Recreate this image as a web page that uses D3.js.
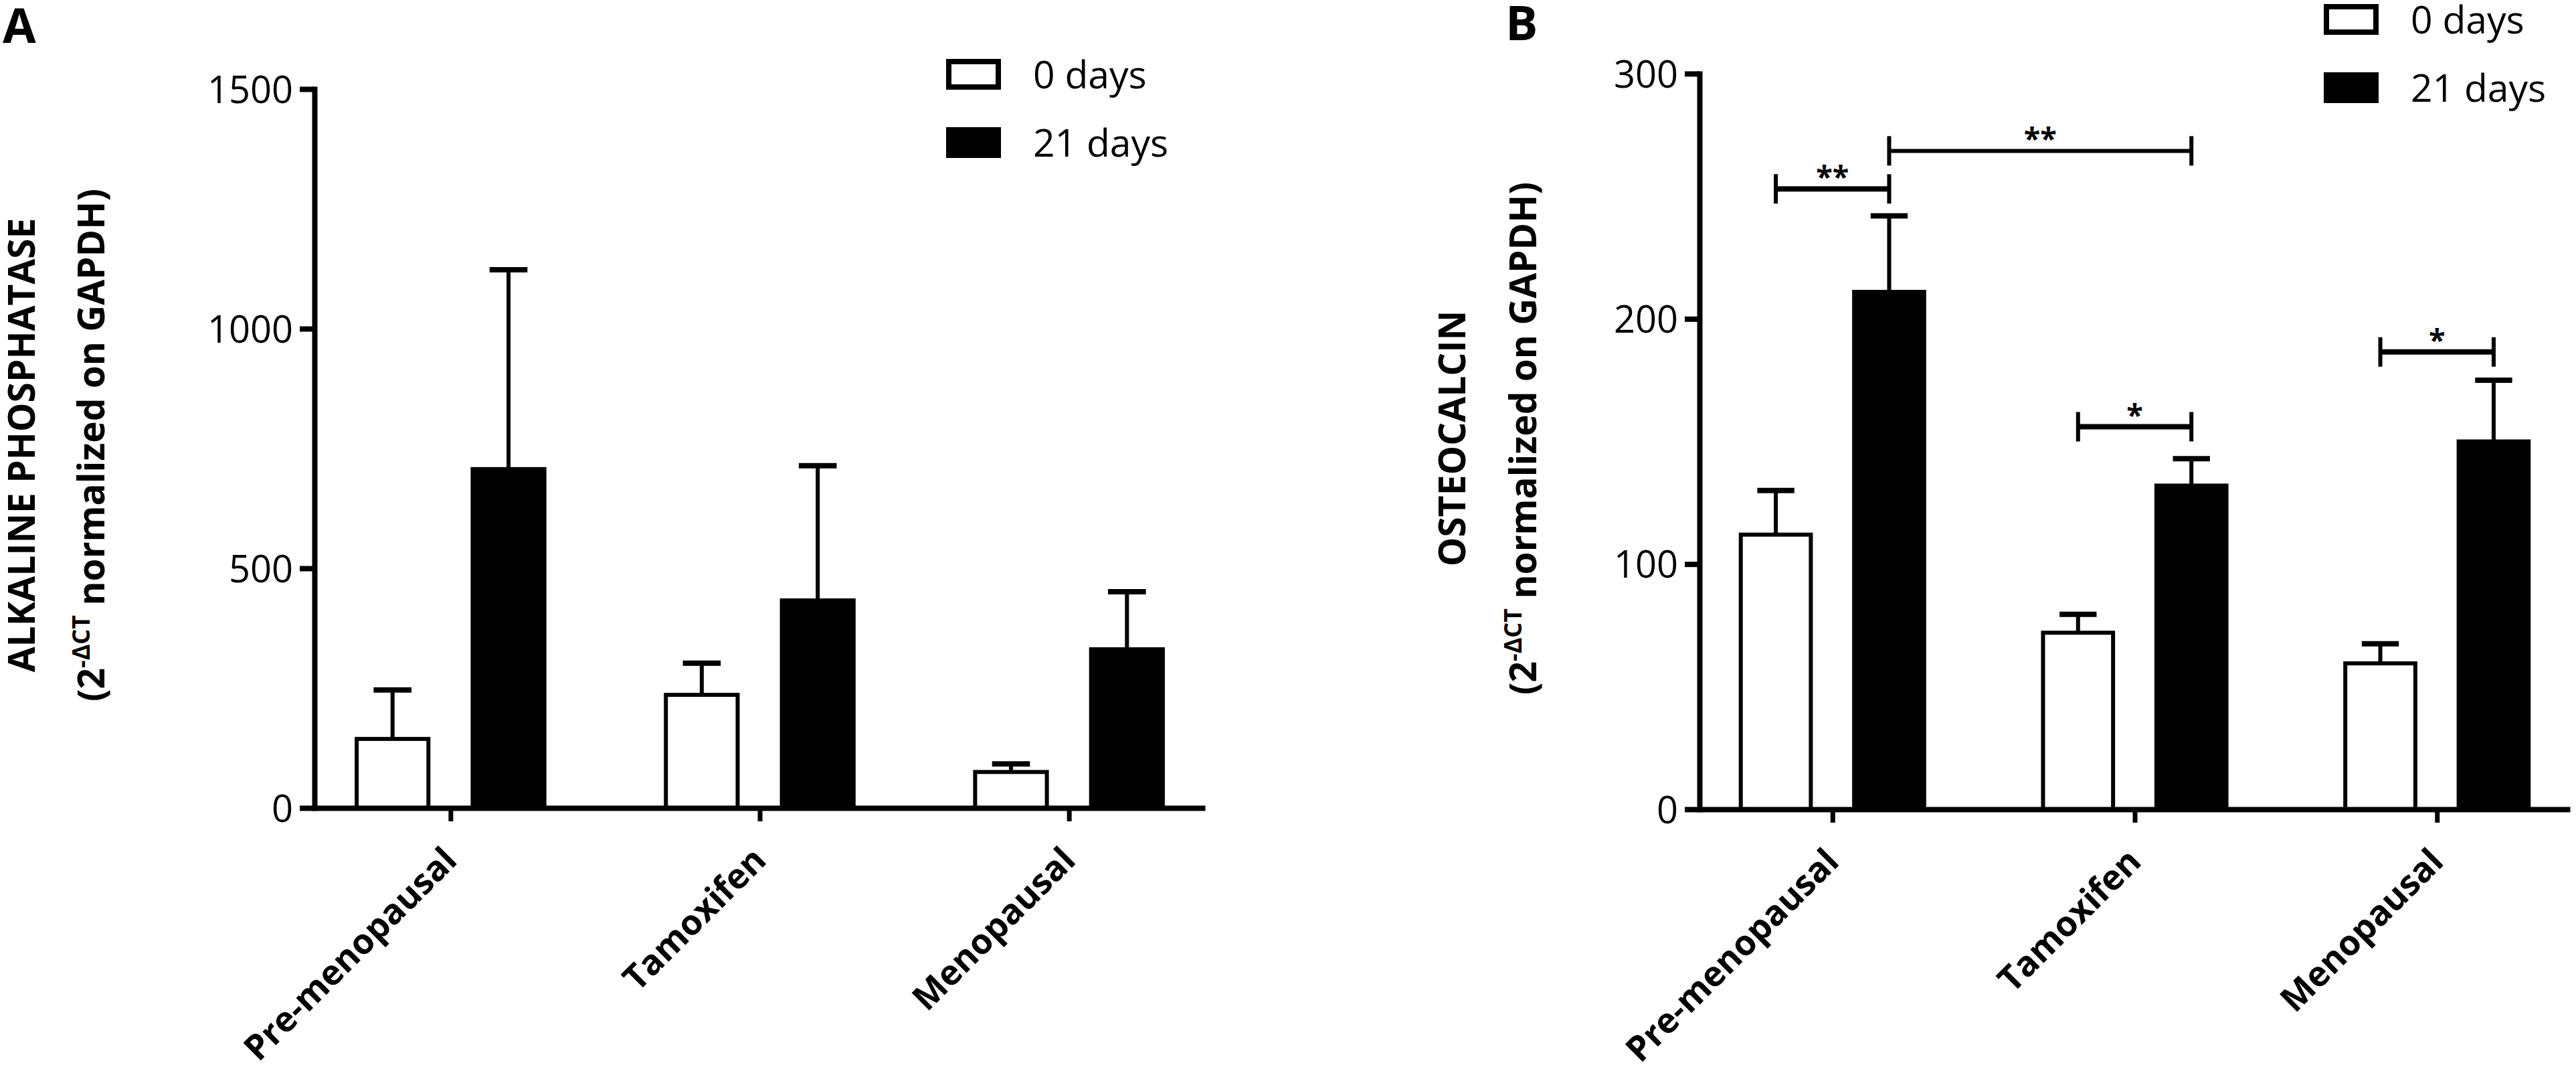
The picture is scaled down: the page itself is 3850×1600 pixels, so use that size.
<!DOCTYPE html>
<html>
<head>
<meta charset="utf-8">
<script src="https://cdn.jsdelivr.net/npm/d3@7"></script>
<style>
  body { margin: 0; background: #fff; }
  text { font-family: "Open Sans", sans-serif; fill: #000; }
</style>
</head>
<body>
<div id="chart"></div>
<script>
// data
const groups = ["Pre-menopausal", "Tamoxifen", "Menopausal"];
const seriesNames = ["0 days", "21 days"];

const alpMean0 = [144, 236, 75];
const alpSem0 = [102, 66, 17];
const alpMean21 = [707, 433, 331];
const alpSem21 = [416, 281, 120];
const alpTicks = [0, 500, 1000, 1500];

const ocnMean0 = [112, 72, 59.5];
const ocnSem0 = [18, 7.5, 8];
const ocnMean21 = [211, 132, 150];
const ocnSem21 = [31, 11, 25];
const ocnTicks = [0, 100, 200, 300];

// significance brackets on panel B: [group, series] -> [group, series]
const ocnBrackets = [
    { from: ["Pre-menopausal", "0 days"], to: ["Pre-menopausal", "21 days"], level: 253, label: "**", w: 8 },
    { from: ["Pre-menopausal", "21 days"], to: ["Tamoxifen", "21 days"], level: 268.5, label: "**", w: 6 },
    { from: ["Tamoxifen", "0 days"], to: ["Tamoxifen", "21 days"], level: 156, label: "*", w: 8 },
    { from: ["Menopausal", "0 days"], to: ["Menopausal", "21 days"], level: 186.5, label: "*", w: 8 }
];

const W = 3850, H = 1600;

const svg = d3.select("#chart")
    .append("svg")
    .attr("width", W)
    .attr("height", H);

svg.append("rect").attr("width", W).attr("height", H).attr("fill", "#fff");

function drawPanel(p) {
    const g = svg.append("g");

    const y = d3.scaleLinear().domain([0, p.max]).range([p.bottom, p.top]);
    const x0 = d3.scalePoint().domain(groups).range([p.left, p.right]).padding(0.44);
    const step = x0.step();
    const x1 = d3.scaleBand().domain(seriesNames)
        .range([-0.31 * step, 0.31 * step])
        .paddingInner(0.3467);
    const bw = x1.bandwidth();

    // rows
    const rows = [];
    groups.forEach((grp, i) => {
        rows.push({ grp, s: "0 days", mean: p.mean0[i], sem: p.sem0[i] });
        rows.push({ grp, s: "21 days", mean: p.mean21[i], sem: p.sem21[i] });
    });

    // error bars (upper only)
    const eb = g.append("g");
    rows.forEach(d => {
        const cx = x0(d.grp) + x1(d.s) + bw / 2;
        eb.append("line")
            .attr("x1", cx).attr("x2", cx)
            .attr("y1", y(d.mean)).attr("y2", y(d.mean + d.sem))
            .attr("stroke", "#000").attr("stroke-width", 6);
        eb.append("line")
            .attr("x1", cx - bw / 4).attr("x2", cx + bw / 4)
            .attr("y1", y(d.mean + d.sem)).attr("y2", y(d.mean + d.sem))
            .attr("stroke", "#000").attr("stroke-width", 8);
    });

    // bars
    g.append("g").selectAll("rect")
        .data(rows)
        .join("rect")
        .attr("x", d => x0(d.grp) + x1(d.s) + 3)
        .attr("y", d => y(d.mean))
        .attr("width", bw - 6)
        .attr("height", d => y(0) - y(d.mean))
        .attr("fill", d => d.s === "0 days" ? "#fff" : "#000")
        .attr("stroke", "#000")
        .attr("stroke-width", 6);

    // y axis
    const yAxis = g.append("g")
        .attr("transform", `translate(${p.left},0)`)
        .call(d3.axisLeft(y).tickValues(p.ticks).tickFormat(d3.format("d"))
            .tickSize(22).tickSizeOuter(0).tickPadding(10));
    yAxis.select(".domain").attr("stroke-width", 8).attr("stroke-linecap", "square");
    yAxis.selectAll(".tick line").attr("stroke-width", 8);
    yAxis.selectAll(".tick text")
        .style("font-family", "'Open Sans', sans-serif")
        .attr("font-size", 56)
        .attr("dy", "0.36em");

    // x axis
    const xAxis = g.append("g")
        .attr("transform", `translate(0,${p.bottom})`)
        .call(d3.axisBottom(x0).tickSize(20).tickSizeOuter(0));
    xAxis.select(".domain").attr("stroke-width", 8);
    xAxis.selectAll(".tick line").attr("stroke-width", 7);
    xAxis.selectAll(".tick text")
        .style("font-family", "'Open Sans', sans-serif")
        .attr("font-size", 52)
        .attr("font-weight", "bold")
        .attr("text-anchor", "end")
        .attr("x", 0).attr("y", 0).attr("dy", 0)
        .attr("transform", "translate(12,81) rotate(-45)");

    // y title
    g.append("text")
        .attr("transform", `translate(${p.title1X},${p.titleY}) rotate(-90)`)
        .attr("text-anchor", "middle")
        .attr("font-size", 55)
        .attr("font-weight", "bold")
        .text(p.title);
    const t2 = g.append("text")
        .attr("transform", `translate(${p.title2X},${p.titleY}) rotate(-90)`)
        .attr("text-anchor", "middle")
        .attr("font-size", 55)
        .attr("font-weight", "bold");
    t2.append("tspan").text("(2");
    t2.append("tspan").attr("font-size", 36).attr("dy", -22).text("-ΔCT");
    t2.append("tspan").attr("dy", 22).text(" normalized on GAPDH)");

    // panel letter
    g.append("text")
        .attr("x", p.letterX).attr("y", p.letterY)
        .attr("font-size", 72)
        .attr("font-weight", "bold")
        .text(p.letter);

    // legend
    const lg = g.append("g");
    seriesNames.forEach((s, i) => {
        const ly = p.legendY + i * 102;
        lg.append("rect")
            .attr("x", p.legendX + 4).attr("y", ly + 4)
            .attr("width", 74).attr("height", 38)
            .attr("fill", i === 0 ? "#fff" : "#000")
            .attr("stroke", "#000").attr("stroke-width", 8);
        lg.append("text")
            .attr("x", p.legendX + 130).attr("y", ly + 44)
            .attr("font-size", 57)
            .text(s);
    });

    // brackets
    const bg = g.append("g");
    (p.brackets || []).forEach(b => {
        const xa = x0(b.from[0]) + x1(b.from[1]) + bw / 2;
        const xb = x0(b.to[0]) + x1(b.to[1]) + bw / 2;
        const yy = y(b.level);
        bg.append("line")
            .attr("x1", xa).attr("x2", xb).attr("y1", yy).attr("y2", yy)
            .attr("stroke", "#000").attr("stroke-width", b.w);
        [xa, xb].forEach(xx => {
            bg.append("line")
                .attr("x1", xx).attr("x2", xx).attr("y1", yy - 22).attr("y2", yy + 22)
                .attr("stroke", "#000").attr("stroke-width", 6);
        });
        bg.append("text")
            .attr("x", (xa + xb) / 2).attr("y", yy - 2)
            .attr("text-anchor", "middle")
            .attr("font-size", 45)
            .attr("font-weight", "bold")
            .text(b.label);
    });
}

drawPanel({
    letter: "A", letterX: 4, letterY: 64,
    left: 470, right: 1801, top: 133, bottom: 1207, max: 1500,
    ticks: alpTicks,
    mean0: alpMean0, sem0: alpSem0, mean21: alpMean21, sem21: alpSem21,
    title: "ALKALINE PHOSPHATASE", title1X: 52, title2X: 156, titleY: 665,
    legendX: 1414, legendY: 88
});

drawPanel({
    letter: "B", letterX: 2250, letterY: 60,
    left: 2540, right: 3841, top: 110, bottom: 1209, max: 300,
    ticks: ocnTicks,
    mean0: ocnMean0, sem0: ocnSem0, mean21: ocnMean21, sem21: ocnSem21,
    title: "OSTEOCALCIN", title1X: 2190, title2X: 2296, titleY: 655,
    legendX: 3473, legendY: 6,
    brackets: ocnBrackets
});
</script>
</body>
</html>
